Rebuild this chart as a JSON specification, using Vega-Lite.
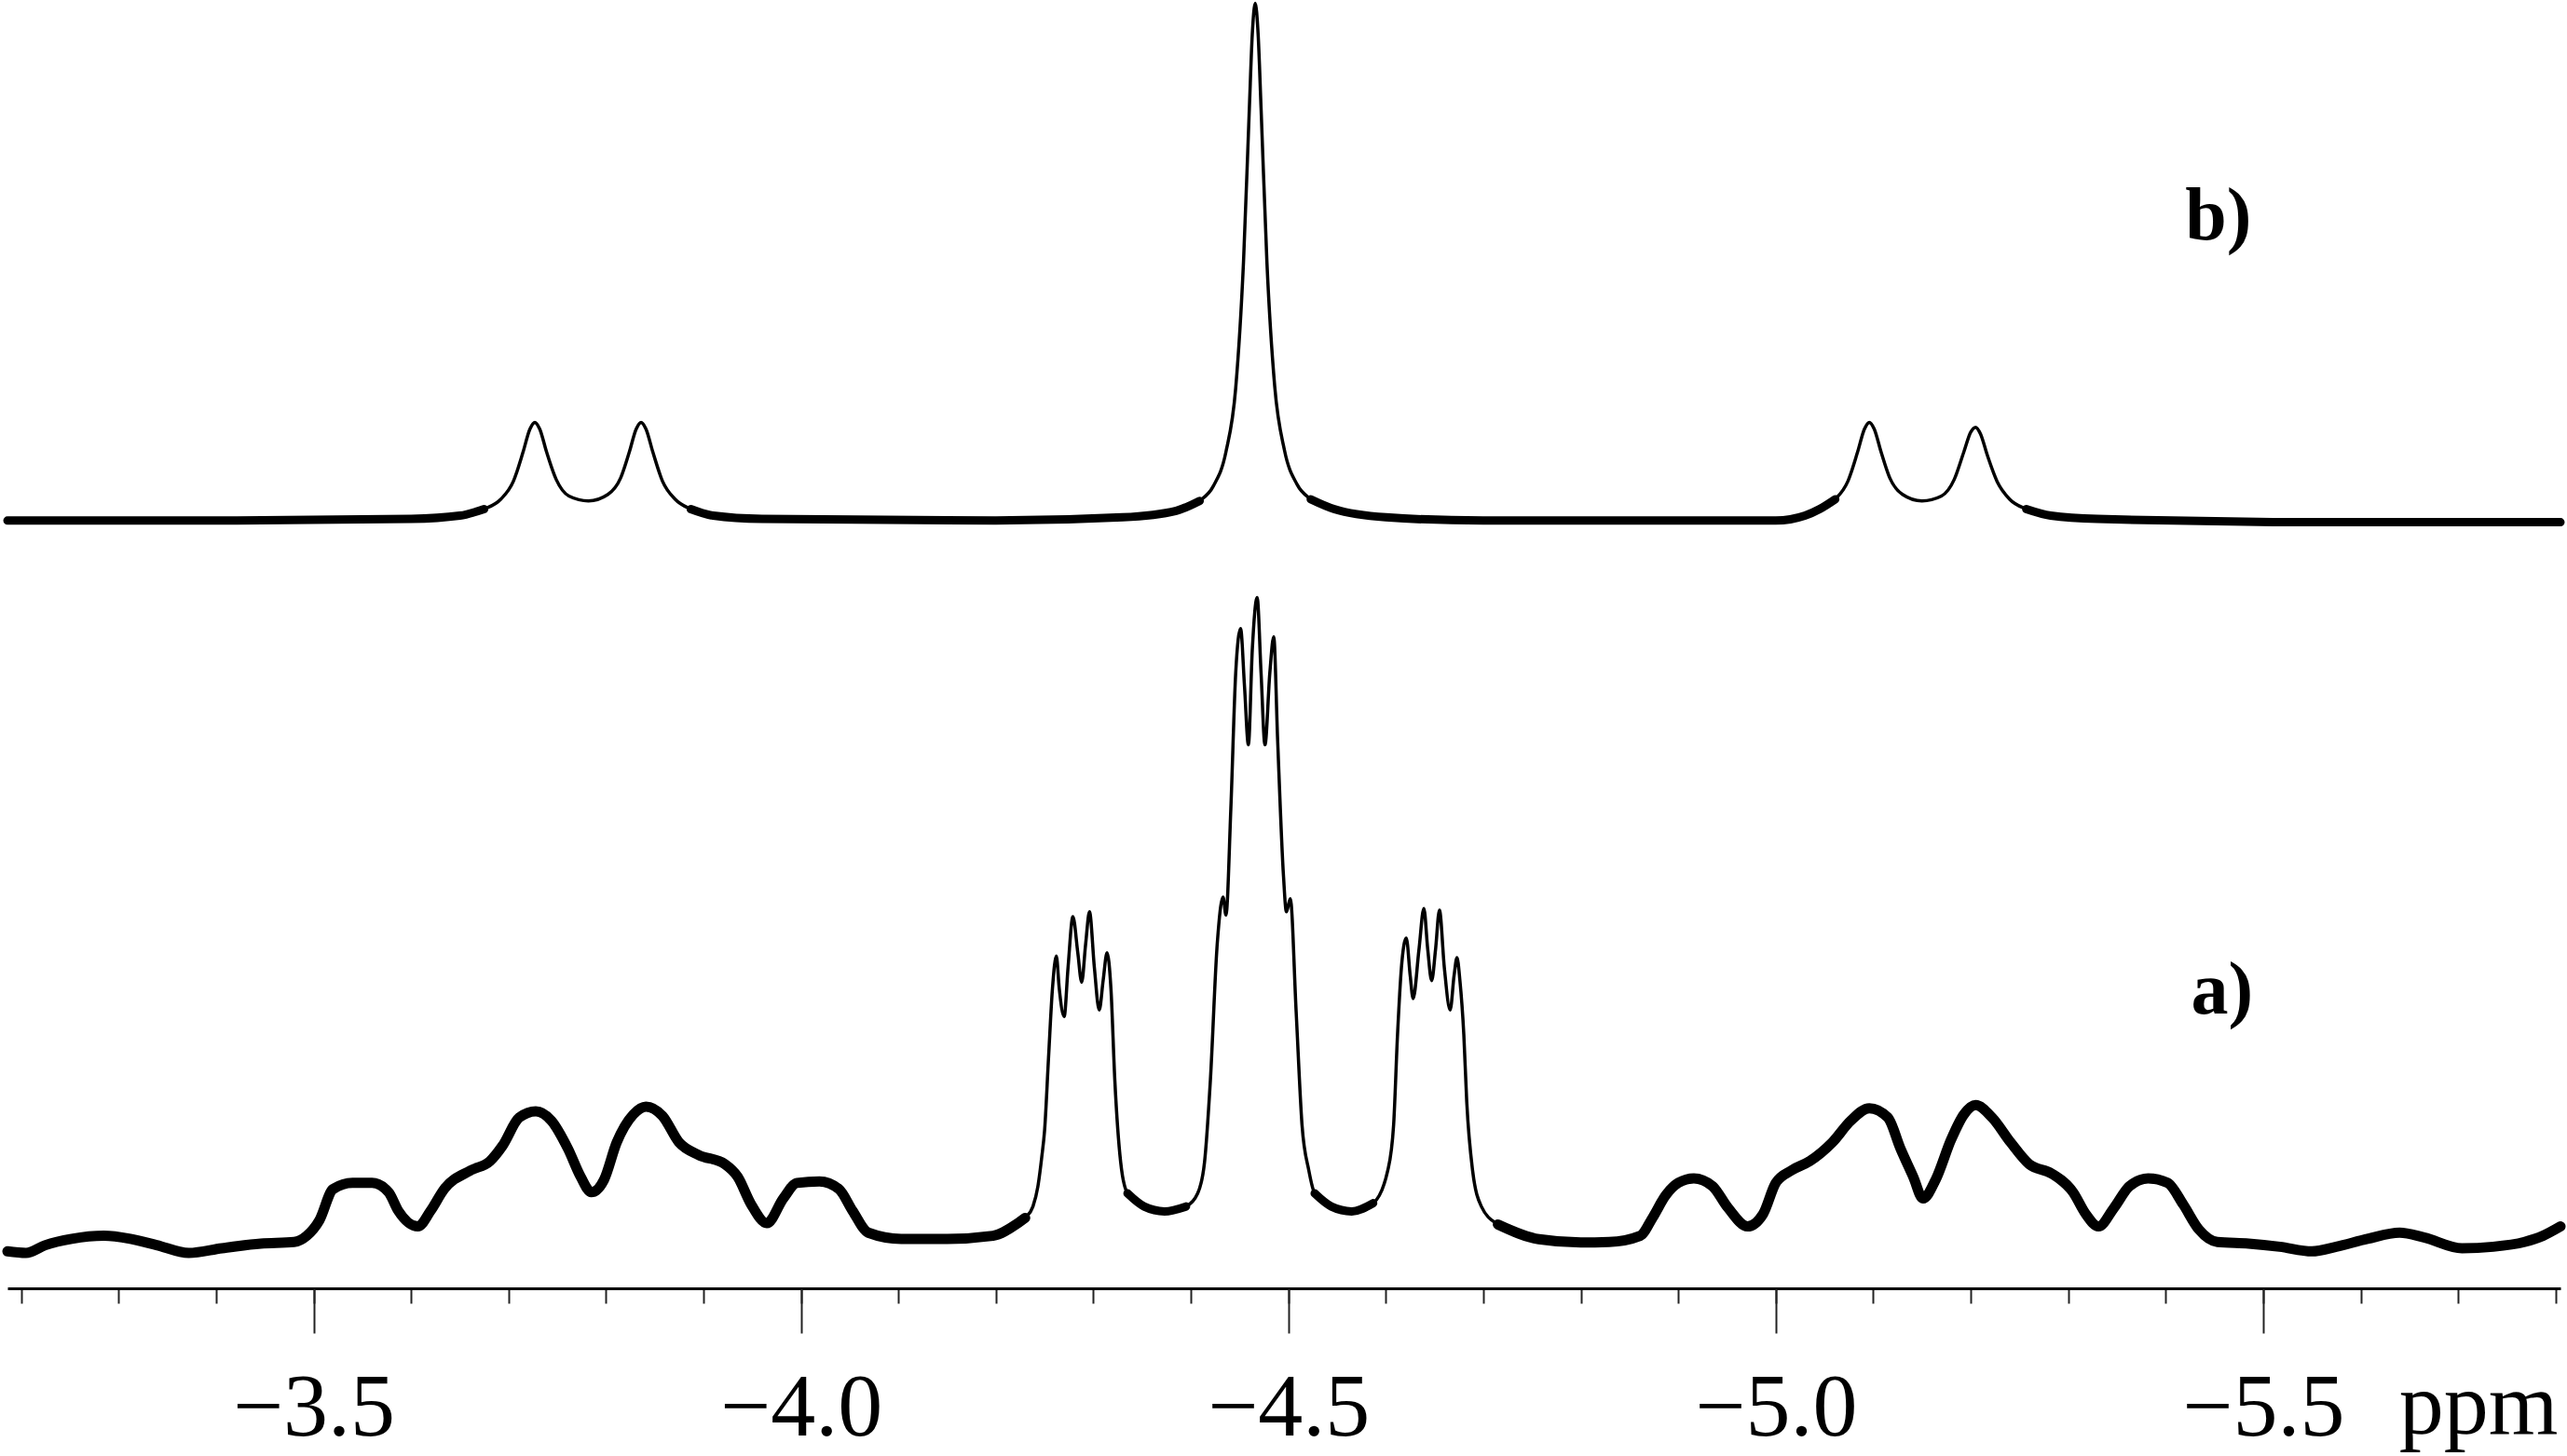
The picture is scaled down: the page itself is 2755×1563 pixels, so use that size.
{
  "$schema": "https://vega.github.io/schema/vega-lite/v6.json",
  "width": 2740,
  "height": 1383,
  "autosize": {"type": "none"},
  "padding": {"left": 8, "top": 0, "right": 7, "bottom": 180},
  "background": "white",
  "config": {"view": {"stroke": null}},
  "datasets": {
    "a": [
      {"ppm": -3.186, "intensity": 22.6}, {"ppm": -3.205, "intensity": 21.6}, {"ppm": -3.225, "intensity": 26.4},
      {"ppm": -3.252, "intensity": 30.2}, {"ppm": -3.285, "intensity": 32.1}, {"ppm": -3.312, "intensity": 30.2},
      {"ppm": -3.339, "intensity": 26.4}, {"ppm": -3.372, "intensity": 21.6}, {"ppm": -3.406, "intensity": 24.5},
      {"ppm": -3.446, "intensity": 27.3}, {"ppm": -3.48, "intensity": 28.3}, {"ppm": -3.493, "intensity": 32.1},
      {"ppm": -3.506, "intensity": 41.6}, {"ppm": -3.52, "intensity": 60.6}, {"ppm": -3.54, "intensity": 64.4},
      {"ppm": -3.56, "intensity": 64.4}, {"ppm": -3.577, "intensity": 58.7}, {"ppm": -3.587, "intensity": 47.3},
      {"ppm": -3.607, "intensity": 37.8}, {"ppm": -3.62, "intensity": 47.3}, {"ppm": -3.634, "intensity": 60.6},
      {"ppm": -3.661, "intensity": 72.0}, {"ppm": -3.681, "intensity": 77.7}, {"ppm": -3.694, "intensity": 87.2},
      {"ppm": -3.711, "intensity": 104.3}, {"ppm": -3.728, "intensity": 108.1}, {"ppm": -3.744, "intensity": 102.4},
      {"ppm": -3.761, "intensity": 85.3}, {"ppm": -3.774, "intensity": 68.2}, {"ppm": -3.785, "intensity": 58.7},
      {"ppm": -3.798, "intensity": 66.3}, {"ppm": -3.811, "intensity": 89.1}, {"ppm": -3.828, "intensity": 106.2},
      {"ppm": -3.841, "intensity": 111.0}, {"ppm": -3.858, "intensity": 105.3}, {"ppm": -3.875, "intensity": 89.1},
      {"ppm": -3.895, "intensity": 81.5}, {"ppm": -3.922, "intensity": 75.8}, {"ppm": -3.935, "intensity": 68.2},
      {"ppm": -3.949, "intensity": 51.2}, {"ppm": -3.965, "intensity": 39.8}, {"ppm": -3.982, "intensity": 55.0},
      {"ppm": -3.996, "intensity": 64.4}, {"ppm": -4.019, "intensity": 65.3}, {"ppm": -4.039, "intensity": 60.6},
      {"ppm": -4.053, "intensity": 47.3}, {"ppm": -4.069, "intensity": 34.0}, {"ppm": -4.103, "intensity": 30.2},
      {"ppm": -4.15, "intensity": 30.2}, {"ppm": -4.197, "intensity": 32.1}, {"ppm": -4.223, "intensity": 40},
      {"ppm": -4.23, "intensity": 43}, {"ppm": -4.238, "intensity": 50}, {"ppm": -4.243, "intensity": 62},
      {"ppm": -4.247, "intensity": 80}, {"ppm": -4.25, "intensity": 97}, {"ppm": -4.254, "intensity": 141}, {"ppm": -4.258, "intensity": 183},
      {"ppm": -4.262, "intensity": 203}, {"ppm": -4.265, "intensity": 183}, {"ppm": -4.27, "intensity": 166},
      {"ppm": -4.274, "intensity": 196}, {"ppm": -4.279, "intensity": 227}, {"ppm": -4.284, "intensity": 205},
      {"ppm": -4.288, "intensity": 187}, {"ppm": -4.292, "intensity": 210}, {"ppm": -4.296, "intensity": 230},
      {"ppm": -4.301, "intensity": 196}, {"ppm": -4.306, "intensity": 170}, {"ppm": -4.31, "intensity": 188},
      {"ppm": -4.314, "intensity": 205}, {"ppm": -4.318, "intensity": 183}, {"ppm": -4.322, "intensity": 127},
      {"ppm": -4.328, "intensity": 77}, {"ppm": -4.335, "intensity": 58}, {"ppm": -4.352, "intensity": 50},
      {"ppm": -4.373, "intensity": 47}, {"ppm": -4.395, "intensity": 50}, {"ppm": -4.407, "intensity": 58},
      {"ppm": -4.414, "intensity": 77}, {"ppm": -4.42, "intensity": 127}, {"ppm": -4.427, "intensity": 210},
      {"ppm": -4.433, "intensity": 239}, {"ppm": -4.436, "intensity": 228}, {"ppm": -4.441, "intensity": 293},
      {"ppm": -4.446, "intensity": 376}, {"ppm": -4.451, "intensity": 403}, {"ppm": -4.455, "intensity": 368},
      {"ppm": -4.459, "intensity": 332}, {"ppm": -4.463, "intensity": 390}, {"ppm": -4.468, "intensity": 422},
      {"ppm": -4.472, "intensity": 376}, {"ppm": -4.476, "intensity": 332}, {"ppm": -4.481, "intensity": 376},
      {"ppm": -4.485, "intensity": 398}, {"ppm": -4.489, "intensity": 335}, {"ppm": -4.495, "intensity": 252},
      {"ppm": -4.498, "intensity": 230}, {"ppm": -4.502, "intensity": 238}, {"ppm": -4.508, "intensity": 169},
      {"ppm": -4.514, "intensity": 100}, {"ppm": -4.521, "intensity": 72}, {"ppm": -4.527, "intensity": 58},
      {"ppm": -4.544, "intensity": 50}, {"ppm": -4.565, "intensity": 47}, {"ppm": -4.587, "intensity": 52},
      {"ppm": -4.602, "intensity": 72}, {"ppm": -4.608, "intensity": 100}, {"ppm": -4.612, "intensity": 155},
      {"ppm": -4.616, "intensity": 196}, {"ppm": -4.621, "intensity": 214}, {"ppm": -4.625, "intensity": 191},
      {"ppm": -4.628, "intensity": 177}, {"ppm": -4.634, "intensity": 207}, {"ppm": -4.639, "intensity": 232},
      {"ppm": -4.643, "intensity": 207}, {"ppm": -4.647, "intensity": 188}, {"ppm": -4.651, "intensity": 207},
      {"ppm": -4.655, "intensity": 231}, {"ppm": -4.66, "intensity": 196}, {"ppm": -4.666, "intensity": 170},
      {"ppm": -4.67, "intensity": 191}, {"ppm": -4.673, "intensity": 202}, {"ppm": -4.676, "intensity": 188},
      {"ppm": -4.68, "intensity": 155}, {"ppm": -4.683, "intensity": 114}, {"ppm": -4.689, "intensity": 72},
      {"ppm": -4.698, "intensity": 50}, {"ppm": -4.715, "intensity": 39}, {"ppm": -4.757, "intensity": 30},
      {"ppm": -4.8, "intensity": 28}, {"ppm": -4.829, "intensity": 28.3}, {"ppm": -4.861, "intensity": 32.1},
      {"ppm": -4.874, "intensity": 43.5}, {"ppm": -4.887, "intensity": 56.8}, {"ppm": -4.9, "intensity": 64.4},
      {"ppm": -4.916, "intensity": 67.2}, {"ppm": -4.935, "intensity": 62.5}, {"ppm": -4.951, "intensity": 49.2},
      {"ppm": -4.971, "intensity": 37.8}, {"ppm": -4.987, "intensity": 45.4}, {"ppm": -5.0, "intensity": 64.4},
      {"ppm": -5.016, "intensity": 72.0}, {"ppm": -5.035, "intensity": 77.7}, {"ppm": -5.058, "intensity": 89.1},
      {"ppm": -5.077, "intensity": 102.4}, {"ppm": -5.096, "intensity": 110.0}, {"ppm": -5.115, "intensity": 104.3},
      {"ppm": -5.128, "intensity": 85.3}, {"ppm": -5.141, "intensity": 68.2}, {"ppm": -5.151, "intensity": 54.9},
      {"ppm": -5.164, "intensity": 66.3}, {"ppm": -5.18, "intensity": 91.0}, {"ppm": -5.193, "intensity": 106.2},
      {"ppm": -5.205, "intensity": 111.9}, {"ppm": -5.222, "intensity": 104.3}, {"ppm": -5.241, "intensity": 89.1},
      {"ppm": -5.26, "intensity": 75.8}, {"ppm": -5.283, "intensity": 70.1}, {"ppm": -5.305, "intensity": 58.7},
      {"ppm": -5.318, "intensity": 45.4}, {"ppm": -5.331, "intensity": 37.8}, {"ppm": -5.347, "intensity": 49.2},
      {"ppm": -5.363, "intensity": 62.5}, {"ppm": -5.382, "intensity": 67.2}, {"ppm": -5.402, "intensity": 64.4},
      {"ppm": -5.418, "intensity": 51.2}, {"ppm": -5.434, "intensity": 36.0}, {"ppm": -5.453, "intensity": 28.3},
      {"ppm": -5.485, "intensity": 27.3}, {"ppm": -5.517, "intensity": 25.4}, {"ppm": -5.55, "intensity": 22.6},
      {"ppm": -5.575, "intensity": 25.4}, {"ppm": -5.607, "intensity": 30.2}, {"ppm": -5.64, "intensity": 34.0},
      {"ppm": -5.665, "intensity": 31.1}, {"ppm": -5.704, "intensity": 24.5}, {"ppm": -5.736, "intensity": 25.4},
      {"ppm": -5.768, "intensity": 28.3}, {"ppm": -5.787, "intensity": 32.1}, {"ppm": -5.805, "intensity": 37.8}
    ],
    "b": [
      {"ppm": -3.186, "intensity": 469}, {"ppm": -3.4, "intensity": 469}, {"ppm": -3.6, "intensity": 470},
      {"ppm": -3.65, "intensity": 472}, {"ppm": -3.675, "intensity": 476}, {"ppm": -3.692, "intensity": 482},
      {"ppm": -3.705, "intensity": 493}, {"ppm": -3.715, "intensity": 511}, {"ppm": -3.722, "intensity": 525},
      {"ppm": -3.727, "intensity": 529}, {"ppm": -3.732, "intensity": 525}, {"ppm": -3.739, "intensity": 511},
      {"ppm": -3.749, "intensity": 494}, {"ppm": -3.762, "intensity": 484}, {"ppm": -3.782, "intensity": 481},
      {"ppm": -3.802, "intensity": 485}, {"ppm": -3.815, "intensity": 495}, {"ppm": -3.824, "intensity": 511},
      {"ppm": -3.831, "intensity": 525}, {"ppm": -3.836, "intensity": 529}, {"ppm": -3.841, "intensity": 525},
      {"ppm": -3.848, "intensity": 511}, {"ppm": -3.858, "intensity": 493}, {"ppm": -3.871, "intensity": 482},
      {"ppm": -3.887, "intensity": 476}, {"ppm": -3.91, "intensity": 472}, {"ppm": -3.96, "intensity": 470},
      {"ppm": -4.2, "intensity": 469}, {"ppm": -4.33, "intensity": 471}, {"ppm": -4.385, "intensity": 475},
      {"ppm": -4.409, "intensity": 481}, {"ppm": -4.423, "intensity": 490}, {"ppm": -4.436, "intensity": 511},
      {"ppm": -4.446, "intensity": 550}, {"ppm": -4.454, "intensity": 627}, {"ppm": -4.46, "intensity": 721},
      {"ppm": -4.463, "intensity": 766}, {"ppm": -4.466, "intensity": 785}, {"ppm": -4.469, "intensity": 766},
      {"ppm": -4.472, "intensity": 721}, {"ppm": -4.478, "intensity": 627}, {"ppm": -4.486, "intensity": 551},
      {"ppm": -4.496, "intensity": 512}, {"ppm": -4.509, "intensity": 491}, {"ppm": -4.523, "intensity": 482},
      {"ppm": -4.547, "intensity": 476}, {"ppm": -4.6, "intensity": 471}, {"ppm": -4.7, "intensity": 469},
      {"ppm": -5.0, "intensity": 469}, {"ppm": -5.03, "intensity": 472}, {"ppm": -5.045, "intensity": 476},
      {"ppm": -5.061, "intensity": 482}, {"ppm": -5.074, "intensity": 493}, {"ppm": -5.084, "intensity": 511},
      {"ppm": -5.091, "intensity": 525}, {"ppm": -5.096, "intensity": 529}, {"ppm": -5.101, "intensity": 525},
      {"ppm": -5.108, "intensity": 511}, {"ppm": -5.117, "intensity": 495}, {"ppm": -5.13, "intensity": 485},
      {"ppm": -5.15, "intensity": 481}, {"ppm": -5.17, "intensity": 484}, {"ppm": -5.183, "intensity": 494},
      {"ppm": -5.193, "intensity": 511}, {"ppm": -5.2, "intensity": 523}, {"ppm": -5.205, "intensity": 526},
      {"ppm": -5.21, "intensity": 522}, {"ppm": -5.217, "intensity": 509}, {"ppm": -5.227, "intensity": 493},
      {"ppm": -5.24, "intensity": 482}, {"ppm": -5.257, "intensity": 476}, {"ppm": -5.282, "intensity": 472},
      {"ppm": -5.33, "intensity": 470}, {"ppm": -5.6, "intensity": 468}, {"ppm": -5.805, "intensity": 468}
    ],
    "labels": [
      {"ppm": -5.42, "intensity": 641, "label": "b)"},
      {"ppm": -5.426, "intensity": 168, "label": "a)"}
    ]
  },
  "encoding": {
    "x": {"field": "ppm", "type": "quantitative",
      "scale": {"domain": [-5.805, -3.186], "reverse": true, "nice": false, "zero": false}, "axis": null},
    "y": {"field": "intensity", "type": "quantitative", "scale": {"domain": [0, 787], "nice": false, "zero": false}, "axis": null}
  },
  "layer": [
    {
      "data": {"name": "a"},
      "mark": {"type": "line", "color": "black", "strokeWidth": 3.5, "interpolate": "monotone"},
      "encoding": {
        "x": {"field": "ppm", "type": "quantitative",
          "scale": {"domain": [-5.805, -3.186], "reverse": true, "nice": false, "zero": false},
          "axis": {"orient": "bottom", "values": [-3.2,-3.3,-3.4,-3.5,-3.6,-3.7,-3.8,-3.9,-4.0,-4.1,-4.2,-4.3,-4.4,-4.5,-4.6,-4.7,-4.8,-4.9,-5.0,-5.1,-5.2,-5.3,-5.4,-5.5,-5.6,-5.7,-5.8],
            "labels": false, "grid": false, "title": null, "tickSize": 16, "tickWidth": 2, "tickColor": "#222",
            "domain": true, "domainColor": "black", "domainWidth": 3}}
      }
    },
    {
      "data": {"name": "a"},
      "transform": [{"filter": {"field": "ppm", "range": [-4.232, -3.186]}}],
      "mark": {"type": "line", "color": "black", "strokeWidth": 11, "strokeCap": "round", "interpolate": "monotone"}
    },
    {
      "data": {"name": "a"},
      "transform": [{"filter": {"field": "ppm", "range": [-4.4, -4.33]}}],
      "mark": {"type": "line", "color": "black", "strokeWidth": 9, "strokeCap": "round", "interpolate": "monotone"}
    },
    {
      "data": {"name": "a"},
      "transform": [{"filter": {"field": "ppm", "range": [-4.6, -4.525]}}],
      "mark": {"type": "line", "color": "black", "strokeWidth": 9, "strokeCap": "round", "interpolate": "monotone"}
    },
    {
      "data": {"name": "a"},
      "transform": [{"filter": {"field": "ppm", "range": [-5.805, -4.7]}}],
      "mark": {"type": "line", "color": "black", "strokeWidth": 11, "strokeCap": "round", "interpolate": "monotone"}
    },
    {
      "data": {"name": "b"},
      "mark": {"type": "line", "color": "black", "strokeWidth": 3.5, "interpolate": "monotone"},
      "encoding": {
        "x": {"field": "ppm", "type": "quantitative",
          "scale": {"domain": [-5.805, -3.186], "reverse": true, "nice": false, "zero": false},
          "axis": {"orient": "bottom", "values": [-3.5, -4.0, -4.5, -5.0, -5.5], "format": ".1f",
            "grid": false, "domain": false, "tickSize": 48, "tickWidth": 2, "tickColor": "#222",
            "labelFont": "Liberation Serif", "labelFontSize": 96, "labelColor": "black",
            "labelBaseline": "alphabetic", "labelPadding": 109, "labelFlush": false, "labelOverlap": false,
            "title": "ppm", "titleFont": "Liberation Serif", "titleFontSize": 96, "titleFontWeight": "normal",
            "titleColor": "black", "titleAlign": "right", "titleBaseline": "alphabetic", "titleX": 2737, "titleY": 155}}
      }
    },
    {
      "data": {"name": "b"},
      "transform": [{"filter": {"field": "ppm", "range": [-3.68, -3.186]}}],
      "mark": {"type": "line", "color": "black", "strokeWidth": 9, "strokeCap": "round", "interpolate": "monotone"}
    },
    {
      "data": {"name": "b"},
      "transform": [{"filter": {"field": "ppm", "range": [-4.41, -3.88]}}],
      "mark": {"type": "line", "color": "black", "strokeWidth": 9, "strokeCap": "round", "interpolate": "monotone"}
    },
    {
      "data": {"name": "b"},
      "transform": [{"filter": {"field": "ppm", "range": [-5.065, -4.52]}}],
      "mark": {"type": "line", "color": "black", "strokeWidth": 9, "strokeCap": "round", "interpolate": "monotone"}
    },
    {
      "data": {"name": "b"},
      "transform": [{"filter": {"field": "ppm", "range": [-5.805, -5.25]}}],
      "mark": {"type": "line", "color": "black", "strokeWidth": 9, "strokeCap": "round", "interpolate": "monotone"}
    },
    {
      "data": {"name": "labels"},
      "mark": {"type": "text", "font": "Liberation Serif", "fontSize": 80, "fontWeight": "bold", "align": "left", "baseline": "alphabetic", "color": "black"},
      "encoding": {
        "text": {"field": "label"}
      }
    }
  ],
  "resolve": {"axis": {"x": "independent"}}
}
